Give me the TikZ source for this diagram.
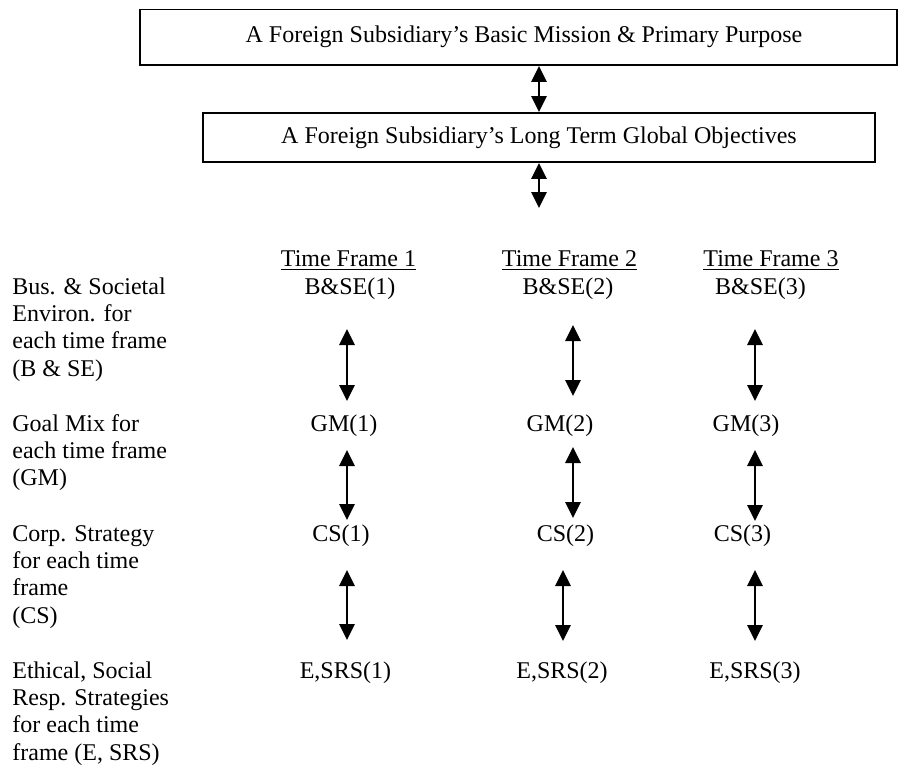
\documentclass[tikz,border=0pt]{standalone}
\usepackage{fontspec}
\setmainfont{Liberation Serif}
\usetikzlibrary{arrows.meta}

\newcommand{\stack}[1]{\parbox[t]{100pt}{\raggedright #1}}

\begin{document}
\begin{tikzpicture}[
  x=0.5pt, y=-0.5pt,
  font=\fontsize{12}{13.7}\selectfont,
  box/.style ={draw, line width=0.9pt, inner sep=0pt},
  cell/.style={anchor=base, inner sep=0pt},
  lbl/.style ={anchor=base west, inner sep=0pt},
  link/.style={{Triangle[length=8pt,width=7.5pt]}-{Triangle[length=8pt,width=7.5pt]},
               line width=1.4pt},
]
  \useasboundingbox (0,0) rectangle (898,765);

  % --- mission and objectives ------------------------------------
  \node[box, minimum width=378.5pt, minimum height=27.75pt] (mission) at (518.5,37.25)
    {\hspace*{5.5pt}A Foreign Subsidiary’s Basic Mission \& Primary Purpose};
  \node[box, minimum width=336pt, minimum height=24.5pt] (goals) at (539,137.5)
    {A Foreign Subsidiary’s Long Term Global Objectives};
  \coordinate (goalsdown) at (539,208);

  \draw[link] (goals.north |- mission.south) -- (goals.north);
  \draw[link] (goals.south) -- (goalsdown);

  % --- row labels --------------------------------------------------
  \node[lbl] (lbse) at (12,294)
    {\stack{Bus. \& Societal\\Environ. for\\each time frame\\(B \& SE)}};
  \node[lbl] (lgm) at (12,431)
    {\stack{Goal Mix for\\each time frame\\(GM)}};
  \node[lbl] (lcs) at (12,541)
    {\stack{Corp. Strategy\\for each time\\frame\\(CS)}};
  \node[lbl] (lesrs) at (12,678)
    {\stack{Ethical, Social\\Resp. Strategies\\for each time\\frame (E, SRS)}};

  % --- the three time frames ----------------------------------------
  \foreach \i/\x in {1/348.5, 2/569.5, 3/771}
    \node[cell] (tf\i) at (\x,266) {\underline{Time Frame \i}};
  \foreach \i/\x in {1/350, 2/568, 3/760.5}
    \node[cell] (bse\i) at (\x,294) {B\&SE(\i)};
  \foreach \i/\x in {1/344, 2/560, 3/746}
    \node[cell] (gm\i) at (\x,431) {GM(\i)};
  \foreach \i/\x in {1/341, 2/565.5, 3/742.5}
    \node[cell] (cs\i) at (\x,541) {CS(\i)};
  \foreach \i/\x in {1/345.5, 2/562, 3/755}
    \node[cell] (esrs\i) at (\x,678) {E,SRS(\i)};

  % --- two-way links between the rows -------------------------------
  \foreach \n/\x/\t/\b in {a1/347/329/401, a2/573/325/396, a3/755/329/401,
                           b1/347/450/520, b2/573/447/518, b3/755/450/521,
                           c1/347/570/640, c2/563/570/641, c3/755/570/641} {
    \coordinate (\n-t) at (\x,\t);
    \coordinate (\n-b) at (\x,\b);
    \draw[link] (\n-t) -- (\n-b);
  }
\end{tikzpicture}
\end{document}
